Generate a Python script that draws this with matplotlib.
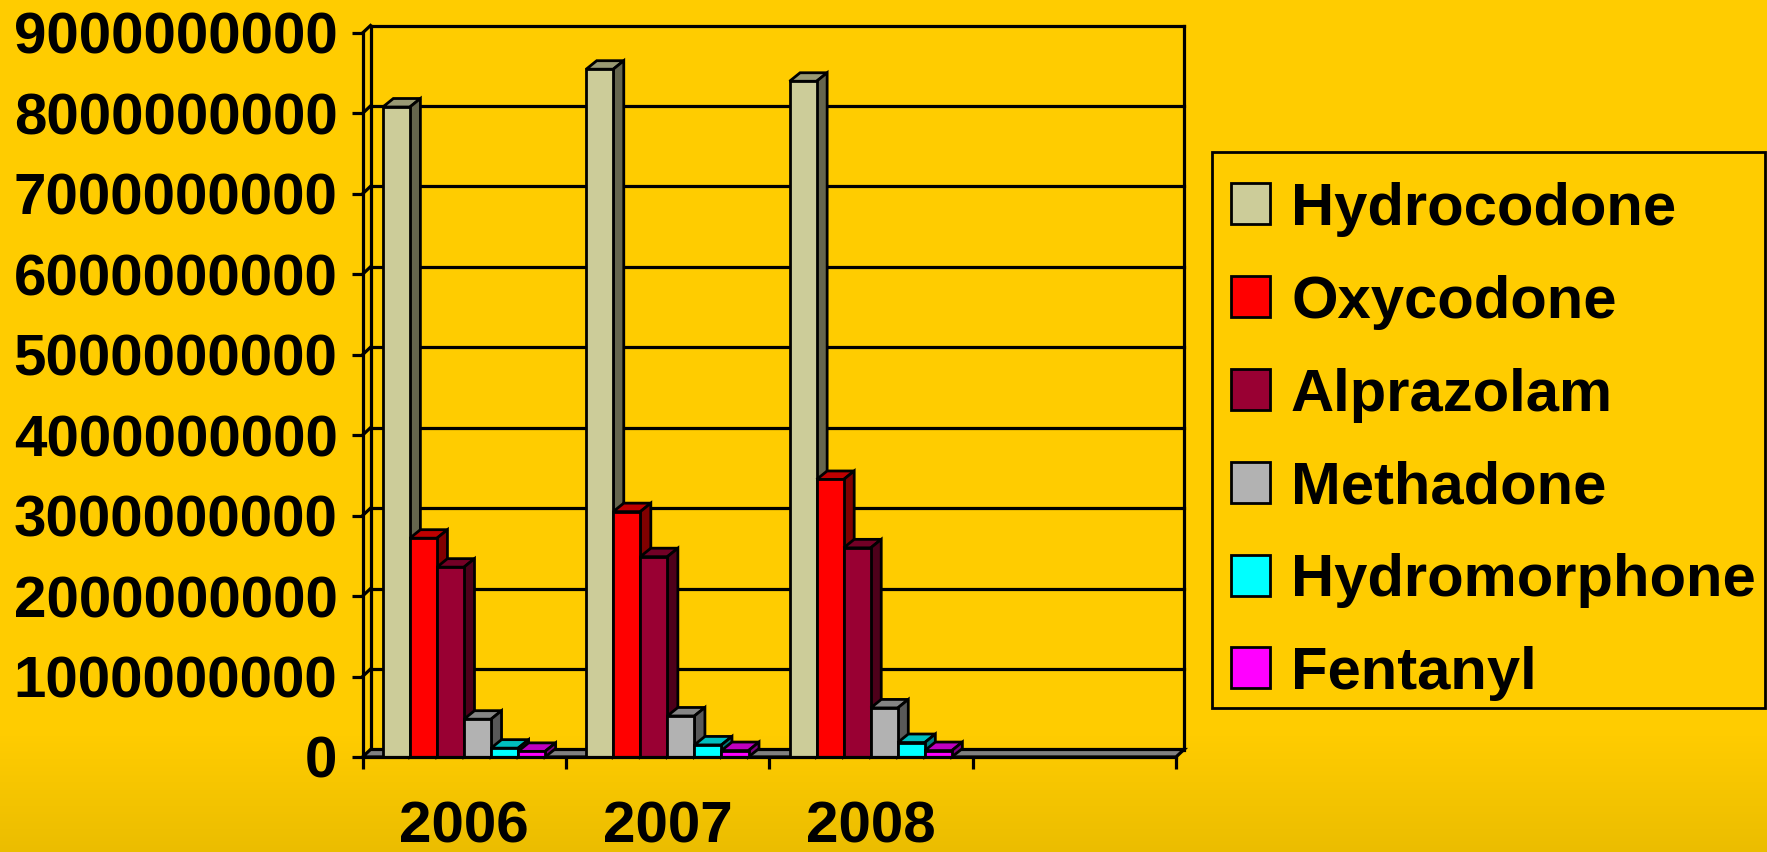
import numpy as np
import matplotlib
matplotlib.use("Agg")
import matplotlib.pyplot as plt
from matplotlib.patches import Polygon, Rectangle
from matplotlib.colors import to_rgb

# ---- data -------------------------------------------------------------
years = ["2006", "2007", "2008"]
drugs = ["Hydrocodone", "Oxycodone", "Alprazolam", "Methadone",
         "Hydromorphone", "Fentanyl"]
hydrocodone = [8.08e9, 8.55e9, 8.40e9]
oxycodone = [2.72e9, 3.05e9, 3.45e9]
alprazolam = [2.36e9, 2.49e9, 2.60e9]
methadone = [0.47e9, 0.51e9, 0.61e9]
hydromorphone = [0.11e9, 0.15e9, 0.18e9]
fentanyl = [0.07e9, 0.08e9, 0.08e9]
series = [hydrocodone, oxycodone, alprazolam, methadone, hydromorphone, fentanyl]
colors = ["#CCCC99", "#FF0000", "#990033", "#B2B2B2", "#00FFFF", "#FF00FF"]
yticks = np.arange(0, 9e9 + 1, 1e9)
n_slots = 4  # category slots on the floor (last one is empty)

# ---- figure -----------------------------------------------------------
W, H = 1767, 852
plt.rcParams['font.family'] = ['Liberation Sans', 'DejaVu Sans']
plt.rcParams['font.weight'] = 'bold'
fig = plt.figure(figsize=(W / 100, H / 100), dpi=100)
fig.patch.set_facecolor("#FFCC00")

# background with a soft darker band at the bottom
bg = fig.add_axes([0, 0, 1, 1], zorder=-10)
rows = np.arange(H)
top_c = np.array([255, 204, 0]) / 255
bot_c = np.array([235, 189, 0]) / 255
t = np.clip((rows - 735) / (H - 735), 0, 1)[:, None]
grad = top_c[None, :] * (1 - t) + bot_c[None, :] * t
bg.imshow(grad[:, None, :].repeat(4, axis=1), aspect='auto', extent=[0, 1, 0, 1])
bg.set_axis_off()

x0, x1, y0, y1 = 362.5, 1176, 757, 33
ax = fig.add_axes([x0 / W, (H - y0) / H, (x1 - x0) / W, (y0 - y1) / H])
ax.set_facecolor("none")
ax.set_xlim(0, n_slots)
ax.set_ylim(0, 9e9)

ux = n_slots / (x1 - x0)      # data units per pixel, x
uy = 9e9 / (y0 - y1)          # data units per pixel, y
wx, wy = 8 * ux, 7.5 * uy     # back-wall offset
bx, by = 10.5 * ux, 8.5 * uy  # bar depth

lw = 2.3
blw = 2.0
# walls and gridlines
for v in yticks[1:]:
    ax.plot([wx, n_slots + wx], [v + wy, v + wy], color="black", lw=lw,
            clip_on=False, zorder=1, solid_capstyle='projecting')
    ax.plot([0, wx], [v, v + wy], color="black", lw=lw, clip_on=False, zorder=1)
ax.plot([wx, wx], [wy, 9e9 + wy], color="black", lw=lw, clip_on=False, zorder=1)
ax.plot([n_slots + wx, n_slots + wx], [wy, 9e9 + wy], color="black", lw=lw,
        clip_on=False, zorder=1)

# floor
ax.add_patch(Polygon([(0, 0), (n_slots, 0), (n_slots + wx, wy), (wx, wy)],
                     closed=True, facecolor="#808080", edgecolor="black",
                     lw=lw, clip_on=False, zorder=1.5))


def shade(c, f):
    r, g, b = to_rgb(c)
    return (r * f, g * f, b * f)


bw = 0.133
gap = 0.1
for i in range(len(years)):
    for j, (vals, col) in enumerate(zip(series, colors)):
        v = vals[i]
        left = i + gap + j * bw
        z = 2 + i + j * 0.1
        ax.add_patch(Polygon([(left, v), (left + bw, v), (left + bw + bx, v + by),
                              (left + bx, v + by)], closed=True,
                             facecolor=shade(col, 0.75), edgecolor="black",
                             lw=blw, clip_on=False, zorder=z))
        ax.add_patch(Polygon([(left + bw, 0), (left + bw, v), (left + bw + bx, v + by),
                              (left + bw + bx, by)], closed=True,
                             facecolor=shade(col, 0.5), edgecolor="black",
                             lw=blw, clip_on=False, zorder=z))
        ax.bar(left, v, width=bw, align='edge', color=col, edgecolor="black",
               linewidth=blw, zorder=z + 0.01)

# axes and ticks
for s in ["top", "right"]:
    ax.spines[s].set_visible(False)
for s in ["left", "bottom"]:
    ax.spines[s].set_linewidth(lw)
    ax.spines[s].set_zorder(20)
ax.set_yticks(yticks)
ax.set_yticklabels([f"{int(v)}" for v in yticks], fontsize=42, fontweight='bold')
ax.tick_params(axis='y', length=8, width=lw, pad=10, direction='out')
ax.set_xticks(np.arange(n_slots + 1))
ax.set_xticklabels([])
ax.tick_params(axis='x', which='major', length=8.6, width=lw, direction='out')
ax.set_xticks(np.arange(len(years)) + 0.5, minor=True)
ax.set_xticklabels(years, minor=True, fontsize=42, fontweight='bold')
ax.tick_params(axis='x', which='minor', length=0, pad=31)

# legend
def fx(px):
    return px / W


def fy(py):
    return 1 - py / H


fig.add_artist(Rectangle((fx(1212), fy(708)), fx(1765) - fx(1212),
                         fy(152) - fy(708), fill=False, edgecolor="black",
                         lw=2.0, transform=fig.transFigure))
row_centers = [203.5, 296.5, 389.5, 482.5, 575, 667.5]
for name, col, cy in zip(drugs, colors, row_centers):
    fig.add_artist(Rectangle((fx(1231), fy(cy + 20.5)), fx(1270) - fx(1231),
                             fy(cy - 20.5) - fy(cy + 20.5), facecolor=col,
                             edgecolor="black", lw=2.0,
                             transform=fig.transFigure))
    fig.text(fx(1291), fy(cy + 21.5), name, fontsize=43, fontweight='bold',
             va='baseline', ha='left')

fig.savefig("out.png", dpi=100, facecolor=fig.get_facecolor())
